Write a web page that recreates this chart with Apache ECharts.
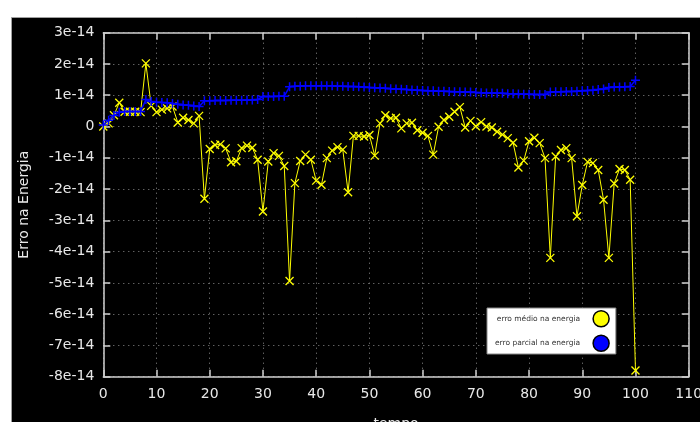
<!DOCTYPE html>
<html>
<head>
<meta charset="utf-8">
<script src="https://cdn.jsdelivr.net/npm/echarts@6/dist/echarts.min.js"></script>
<style>
html,body{margin:0;padding:0;background:#ffffff;}
#c{width:700px;height:422px;}
</style>
</head>
<body>
<div id="c"></div>
<script>
// values in units of 1e-14
const seriesNames = ['erro médio na energia', 'erro parcial na energia'];
const erroMedio = [
  0.00, 0.10, 0.36, 0.76, 0.47, 0.47, 0.47, 0.46, 2.02, 0.66,
  0.46, 0.54, 0.58, 0.64, 0.13, 0.28, 0.21, 0.10, 0.34, -2.31,
  -0.72, -0.59, -0.57, -0.70, -1.14, -1.11, -0.69, -0.61, -0.68, -1.06,
  -2.72, -1.12, -0.85, -0.94, -1.26, -4.94, -1.81, -1.10, -0.90, -1.06,
  -1.73, -1.86, -1.01, -0.77, -0.66, -0.74, -2.10, -0.30, -0.30, -0.32,
  -0.27, -0.93, 0.10, 0.36, 0.26, 0.28, -0.06, 0.10, 0.12, -0.12,
  -0.20, -0.30, -0.90, -0.01, 0.21, 0.31, 0.47, 0.62, -0.03, 0.18,
  0.01, 0.14, 0.00, -0.03, -0.17, -0.26, -0.37, -0.52, -1.31, -1.09,
  -0.47, -0.36, -0.53, -1.01, -4.20, -0.96, -0.75, -0.69, -1.01, -2.87,
  -1.87, -1.13, -1.17, -1.39, -2.34, -4.20, -1.82, -1.36, -1.39, -1.70,
  -7.80
];
const erroParcial = [
  0.05, 0.20, 0.35, 0.46, 0.48, 0.48, 0.48, 0.48, 0.86, 0.80,
  0.78, 0.77, 0.76, 0.74, 0.71, 0.69, 0.68, 0.66, 0.64, 0.82,
  0.82, 0.83, 0.83, 0.83, 0.84, 0.84, 0.84, 0.85, 0.85, 0.86,
  0.96, 0.96, 0.96, 0.97, 0.97, 1.27, 1.29, 1.29, 1.30, 1.30,
  1.30, 1.30, 1.30, 1.30, 1.29, 1.29, 1.28, 1.28, 1.27, 1.26,
  1.25, 1.24, 1.23, 1.22, 1.21, 1.20, 1.19, 1.18, 1.17, 1.16,
  1.15, 1.14, 1.14, 1.13, 1.13, 1.12, 1.11, 1.11, 1.10, 1.10,
  1.09, 1.08, 1.07, 1.07, 1.06, 1.06, 1.05, 1.05, 1.04, 1.03,
  1.03, 1.02, 1.02, 1.02, 1.10, 1.11, 1.11, 1.12, 1.12, 1.13,
  1.14, 1.15, 1.16, 1.18, 1.20, 1.25, 1.26, 1.26, 1.27, 1.28,
  1.48
];
const xTicks = {min: 0, max: 110, step: 10};
const yTicks = {min: -8, max: 3, step: 1};
const expSuffix = 'e-14';

const chart = echarts.init(document.getElementById('c'), null, {renderer: 'canvas'});
const axisCol = '#d0d0d0';
const gridCol = '#8a8a8a';
const font = 'DejaVu Sans';
const fmtY = v => (v === 0 ? '0' : v + expSuffix);

const baseAxis = {
  axisLine: {show: true, onZero: false, lineStyle: {color: axisCol, width: 1.5}},
  axisTick: {show: true, inside: true, length: 7, lineStyle: {color: axisCol, width: 1.5}},
};

chart.setOption({
  backgroundColor: 'transparent',
  animation: false,
  graphic: [{
    type: 'rect', z: -100, silent: true,
    shape: {x: 11.5, y: 17.5, width: 720, height: 420},
    style: {fill: '#000000', stroke: '#a0a0a0', lineWidth: 1}
  }],
  grid: {left: 103.3, right: 11.3, top: 32.7, bottom: 45.3, containLabel: false, outerBoundsMode: 'none'},
  legend: {
    show: true,
    orient: 'vertical',
    left: 487, top: 308,
    align: 'right',
    backgroundColor: '#ffffff',
    borderColor: '#888888',
    borderWidth: 1,
    borderRadius: 0,
    padding: [2, 6, 2, 8],
    itemWidth: 16, itemHeight: 16, itemGap: 7,
    textStyle: {color: '#333333', fontFamily: font, fontSize: 7.5, padding: [0, 8, 4, 0]},
    data: [
      {name: seriesNames[0], icon: 'circle', itemStyle: {color: '#ffff00', borderColor: '#000000', borderWidth: 1.5}},
      {name: seriesNames[1], icon: 'circle', itemStyle: {color: '#0000ff', borderColor: '#000000', borderWidth: 1.5}}
    ]
  },
  xAxis: [
    Object.assign({}, baseAxis, {
      type: 'value', position: 'bottom', min: xTicks.min, max: xTicks.max, interval: xTicks.step,
      name: 'tempo', nameLocation: 'middle', nameGap: 41,
      nameTextStyle: {color: '#e8e8e8', fontFamily: font, fontSize: 14},
      axisLabel: {color: '#e8e8e8', fontFamily: font, fontSize: 14, margin: 11},
      splitLine: {show: true, lineStyle: {color: gridCol, type: [1, 4], width: 1}}
    }),
    Object.assign({}, baseAxis, {
      type: 'value', position: 'top', min: xTicks.min, max: xTicks.max, interval: xTicks.step,
      axisLabel: {show: false}, splitLine: {show: false}
    })
  ],
  yAxis: [
    Object.assign({}, baseAxis, {
      type: 'value', position: 'left', min: yTicks.min, max: yTicks.max, interval: yTicks.step,
      name: 'Erro na Energia', nameLocation: 'middle', nameGap: 72, nameRotate: 90,
      nameTextStyle: {color: '#e8e8e8', fontFamily: font, fontSize: 14},
      axisLabel: {color: '#e8e8e8', fontFamily: font, fontSize: 14, margin: 9, formatter: fmtY},
      splitLine: {show: true, lineStyle: {color: gridCol, type: [1, 4], width: 1}}
    }),
    Object.assign({}, baseAxis, {
      type: 'value', position: 'right', min: yTicks.min, max: yTicks.max, interval: yTicks.step,
      axisLabel: {show: false}, splitLine: {show: false}
    })
  ],
  series: [
    {
      name: seriesNames[0], type: 'line',
      xAxisIndex: 0, yAxisIndex: 0,
      data: erroMedio.map((v, i) => [i, v]),
      symbol: 'path://M0,0L10,10M10,0L0,10',
      symbolSize: 8, showSymbol: true, showAllSymbol: true,
      lineStyle: {color: '#ffff00', width: 1},
      itemStyle: {color: '#ffff00', borderColor: '#ffff00', borderWidth: 1.3},
      z: 3
    },
    {
      name: seriesNames[1], type: 'line',
      xAxisIndex: 0, yAxisIndex: 0,
      data: erroParcial.map((v, i) => [i, v]),
      symbol: 'path://M5,0L5,10M0,5L10,5',
      symbolSize: 9, showSymbol: true, showAllSymbol: true,
      lineStyle: {color: '#0000ff', width: 1.5},
      itemStyle: {color: '#0000ff', borderColor: '#0000ff', borderWidth: 1.5},
      z: 4
    }
  ]
});
</script>
</body>
</html>
